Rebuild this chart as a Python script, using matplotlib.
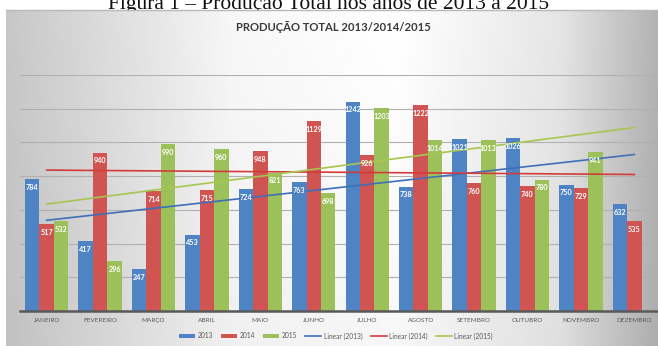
import numpy as np
import matplotlib
matplotlib.use("Agg")
import matplotlib.pyplot as plt
from matplotlib.patches import Patch
from matplotlib.lines import Line2D

# Monthly production by year
months = ["JANEIRO", "FEVEREIRO", "MARÇO", "ABRIL", "MAIO", "JUNHO",
          "JULHO", "AGOSTO", "SETEMBRO", "OUTUBRO", "NOVEMBRO", "DEZEMBRO"]
prod_2013 = [784, 417, 247, 453, 724, 763, 1242, 738, 1021, 1026, 750, 632]
prod_2014 = [517, 940, 714, 715, 948, 1129, 926, 1222, 760, 740, 729, 535]
prod_2015 = [532, 296, 990, 960, 821, 698, 1203, 1014, 1013, 780, 941, None]
years = ["2013", "2014", "2015"]
series = [prod_2013, prod_2014, prod_2015]

bar_colors = ["#4f84c4", "#cf5452", "#9cc15a"]
trend_colors = ["#3f6fb8", "#d33b3b", "#a6c650"]

W, H = 658, 346
fig = plt.figure(figsize=(W / 100, H / 100), dpi=100)
fig.patch.set_facecolor("white")

# Caption above the chart panel
fig.text(329 / W, 1 - 9.5 / H, "Figura 1 – Produção Total nos anos de 2013 a 2015",
         family="Liberation Serif", fontsize=15.5, ha="center", va="baseline",
         color="#111111", zorder=0.5)

# Chart panel with grey-white-grey gradient
bg = fig.add_axes([6 / W, 0, (W - 6) / W, (H - 10) / H], zorder=1)
xs = np.linspace(0, 1, 400)
prof = np.interp(xs, [0, 0.35, 0.6, 0.85, 1], [0.78, 0.97, 1.0, 0.9, 0.70])
ys = np.linspace(0, 1, 200)[:, None]
grad = prof[None, :] * (0.97 + 0.03 * ys)
bg.imshow(np.clip(grad, 0, 1), cmap="gray", vmin=0, vmax=1, aspect="auto",
          extent=[0, 1, 0, 1], origin="lower")
bg.set_axis_off()
bg.plot([0, 1], [1, 1], color="#b8b8b8", lw=1, transform=bg.transAxes, clip_on=False)

# Plot area
ax = fig.add_axes([20 / W, (H - 311) / H, 641 / W, 236 / H], zorder=2)
ax.patch.set_alpha(0)
n = len(months)
x = np.arange(n)
bw = 0.27
for i, (vals, col) in enumerate(zip(series, bar_colors)):
    off = (i - 1) * bw
    for xi, v in zip(x, vals):
        if v is None:
            continue
        ax.bar(xi + off, v, width=bw, color=col, zorder=2)
        ax.annotate(str(v), (xi + off, v), xytext=(0, -3.5), textcoords="offset points",
                    ha="center", va="top", fontsize=5.2, fontweight="bold",
                    family="Lato", color="white", zorder=4)

# Linear trend lines from each year's data
for vals, col in zip(series, trend_colors):
    xv = np.array([xi for xi, v in zip(x, vals) if v is not None])
    yv = np.array([v for v in vals if v is not None])
    k, b = np.polyfit(xv + 1, yv, 1)
    ax.plot(x, k * (x + 1) + b, color=col, lw=1.2, zorder=3)

ax.set_xlim(-0.5, n - 0.5)
ax.set_ylim(0, 1400)
ax.set_yticks(np.arange(0, 1401, 200))
ax.yaxis.grid(True, color="#b0b0b0", lw=0.8, zorder=0)
ax.set_axisbelow(True)
ax.tick_params(axis="y", left=False, labelleft=False)
ax.tick_params(axis="x", length=0, pad=5)
ax.set_xticks(x)
ax.set_xticklabels(months, fontsize=4.6, family="Lato", color="#595959")
for s in ["top", "right", "left"]:
    ax.spines[s].set_visible(False)
ax.spines["bottom"].set_color("#595959")
ax.spines["bottom"].set_linewidth(1.8)
ax.spines["bottom"].set_zorder(5)

fig.text(333 / W, 1 - 27 / H, "PRODUÇÃO TOTAL 2013/2014/2015", family="Lato",
         fontweight="bold", fontsize=8.1, ha="center", va="center",
         color="#3a3a3a", zorder=3)

handles = [Patch(facecolor=c, label=y) for c, y in zip(bar_colors, years)]
handles += [Line2D([], [], color=c, lw=1.2, label=f"Linear ({y})")
            for c, y in zip(trend_colors, years)]
fig.legend(handles=handles, loc="center", bbox_to_anchor=(336 / W, 10 / H),
           ncol=6, frameon=False, prop={"family": "Lato", "size": 4.8},
           labelcolor="#595959", handlelength=2.4, handleheight=0.45,
           columnspacing=1.2, handletextpad=0.4)

fig.savefig("out.png", dpi=100)
